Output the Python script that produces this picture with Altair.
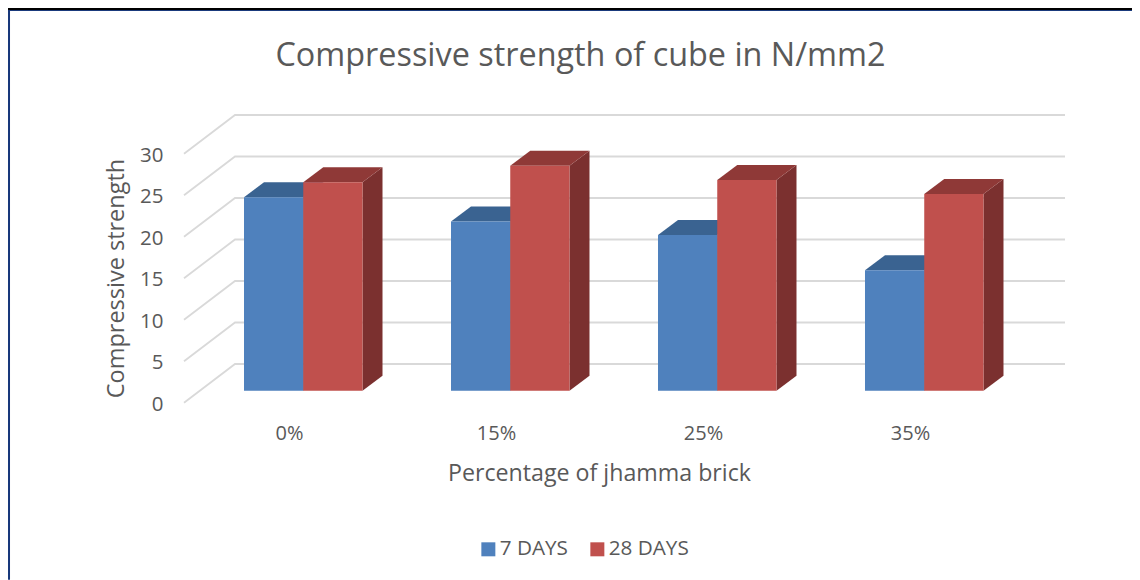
import altair as alt
import pandas as pd

categories = ["0%", "15%", "25%", "35%"]
series_names = ["7 DAYS", "28 DAYS"]
days7 = [23.3, 20.4, 18.75, 14.5]
days28 = [25.1, 27.1, 25.4, 23.7]
grid_values = [0, 5, 10, 15, 20, 25, 30]

FONT = "Open Sans"
TEXT = "#595959"

# scale geometry: one category step and one N/mm2 in pixels
STEP = 207.0
UNIT = 8.3
W, H = 881, 287.7
x_scale = alt.Scale(domain=[-105 / STEP, (W - 105) / STEP], nice=False, zero=False)
y_scale = alt.Scale(domain=[0, H / UNIT], nice=False, zero=False)

# oblique projection expressed in data units
wall_dx, wall_dy = 51 / STEP, 38.7 / UNIT
bar_dx, bar_dy = 20 / STEP, 15 / UNIT
bar_w = 59.25 / STEP
bar_base = 12 / UNIT
bar_shift = -45 / STEP  # left edge of the first bar relative to the category label

x_axis = alt.Axis(
    values=[0, 1, 2, 3],
    labelExpr="['0%','15%','25%','35%'][datum.value]",
    domain=False,
    ticks=False,
    grid=False,
    labelFont=FONT,
    labelFontSize=20,
    labelColor=TEXT,
    labelPadding=21,
    title="Percentage of jhamma brick",
    titleFont=FONT,
    titleFontSize=23.2,
    titleFontWeight="normal",
    titleColor=TEXT,
    titleX=415,
    titleY=71,
    titleBaseline="middle",
)
y_axis = alt.Axis(
    values=grid_values,
    domain=False,
    ticks=False,
    grid=False,
    labelFont=FONT,
    labelFontSize=20.5,
    labelColor=TEXT,
    labelPadding=21,
    labelOffset=1.5,
    title="Compressive strength",
    titleFont=FONT,
    titleFontSize=23.5,
    titleFontWeight="normal",
    titleColor=TEXT,
    titleX=-68,
    titleY=163,
    titleBaseline="middle",
)
X = alt.X("x:Q", scale=x_scale, axis=x_axis)
Y = alt.Y("y:Q", scale=y_scale, axis=y_axis)

# walls
left, right = -105 / STEP, (W - 105) / STEP
wall_rows = []
for v in grid_values:
    for px, py in [(left, v), (left + wall_dx, v + wall_dy), (right, v + wall_dy)]:
        wall_rows.append({"v": v, "x": px, "y": py})
walls = (
    alt.Chart(pd.DataFrame(wall_rows))
    .mark_line(color="#d9d9d9", strokeWidth=1.8, interpolate="linear")
    .encode(x=X, y=Y, detail="v:N")
)

# bars
def bar_frames(name, values, offset):
    front, side, top = [], [], []
    for i, (c, val) in enumerate(zip(categories, values)):
        xl = i + bar_shift + offset * bar_w
        xr = xl + bar_w
        t = bar_base + val
        front.append({"series": name, "x": xl, "x2": xr, "y": bar_base, "y2": t})
        for f in (0, 1):
            side.append({"bar": c, "x": xr + f * bar_dx, "y": bar_base + f * bar_dy, "y2": t + f * bar_dy})
            top.append({"bar": c, "x": xl + f * bar_dx, "x2": xr + f * bar_dx, "y": t + f * bar_dy})
    return pd.DataFrame(front), pd.DataFrame(side), pd.DataFrame(top)

color = alt.Color(
    "series:N",
    scale=alt.Scale(domain=series_names, range=["#4F81BD", "#C0504D"]),
    legend=alt.Legend(
        orient="none",
        direction="horizontal",
        legendX=294,
        legendY=423.5,
        title=None,
        symbolType="square",
        symbolSize=196,
        symbolStrokeWidth=0,
        symbolOpacity=1,
        labelFont=FONT,
        labelFontSize=20.7,
        labelColor=TEXT,
        labelOffset=1,
        columnPadding=19,
    ),
)

layers = [walls]
shades = {"7 DAYS": ("#3A6391", "#39608C"), "28 DAYS": ("#8F3937", "#7B302F")}
for j, (name, vals) in enumerate(zip(series_names, [days7, days28])):
    fr, si, to = bar_frames(name, vals, j)
    top_c, side_c = shades[name]
    layers.append(
        alt.Chart(si).mark_area(color=side_c, orient="vertical", interpolate="linear").encode(
            x=X, y=Y, y2="y2:Q", detail="bar:N"
        )
    )
    layers.append(
        alt.Chart(to).mark_area(color=top_c, orient="horizontal", interpolate="linear").encode(
            x=X, x2="x2:Q", y=Y, detail="bar:N"
        )
    )
    layers.append(
        alt.Chart(fr).mark_rect().encode(x=X, x2="x2:Q", y=Y, y2="y2:Q", color=color)
    )

# page frame of the source figure
frame = pd.DataFrame({"k": [0]})
top_band = alt.Chart(frame).mark_rule(color="#000000", strokeWidth=4).encode(
    x=alt.value(-176), x2=alt.value(W + 67), y=alt.value(-107)
)
top_thin = alt.Chart(frame).mark_rule(color="#17377A", strokeWidth=1).encode(
    x=alt.value(-176), x2=alt.value(W + 67), y=alt.value(-104.5)
)
left_line = alt.Chart(frame).mark_rule(color="#17377A", strokeWidth=2).encode(
    x=alt.value(-175), y=alt.value(-105), y2=alt.value(H + 177)
)

chart = (
    alt.layer(*layers, top_band, top_thin, left_line)
    .resolve_scale(x="shared", y="shared")
    .properties(
        width=W,
        height=H,
        autosize=alt.AutoSizeParams(type="none"),
        padding={"left": 176, "top": 107, "right": 67, "bottom": 177},
        title=alt.TitleParams(
            "Compressive strength of cube in N/mm2",
            font=FONT,
            fontSize=32.4,
            fontWeight="normal",
            color=TEXT,
            anchor="middle",
            frame="group",
            dx=-44,
            dy=66.5,
            offset=0,
        ),
    )
    .configure_view(stroke=None)
)

chart.save("out.html", embed_options={"renderer": "svg", "actions": False})
